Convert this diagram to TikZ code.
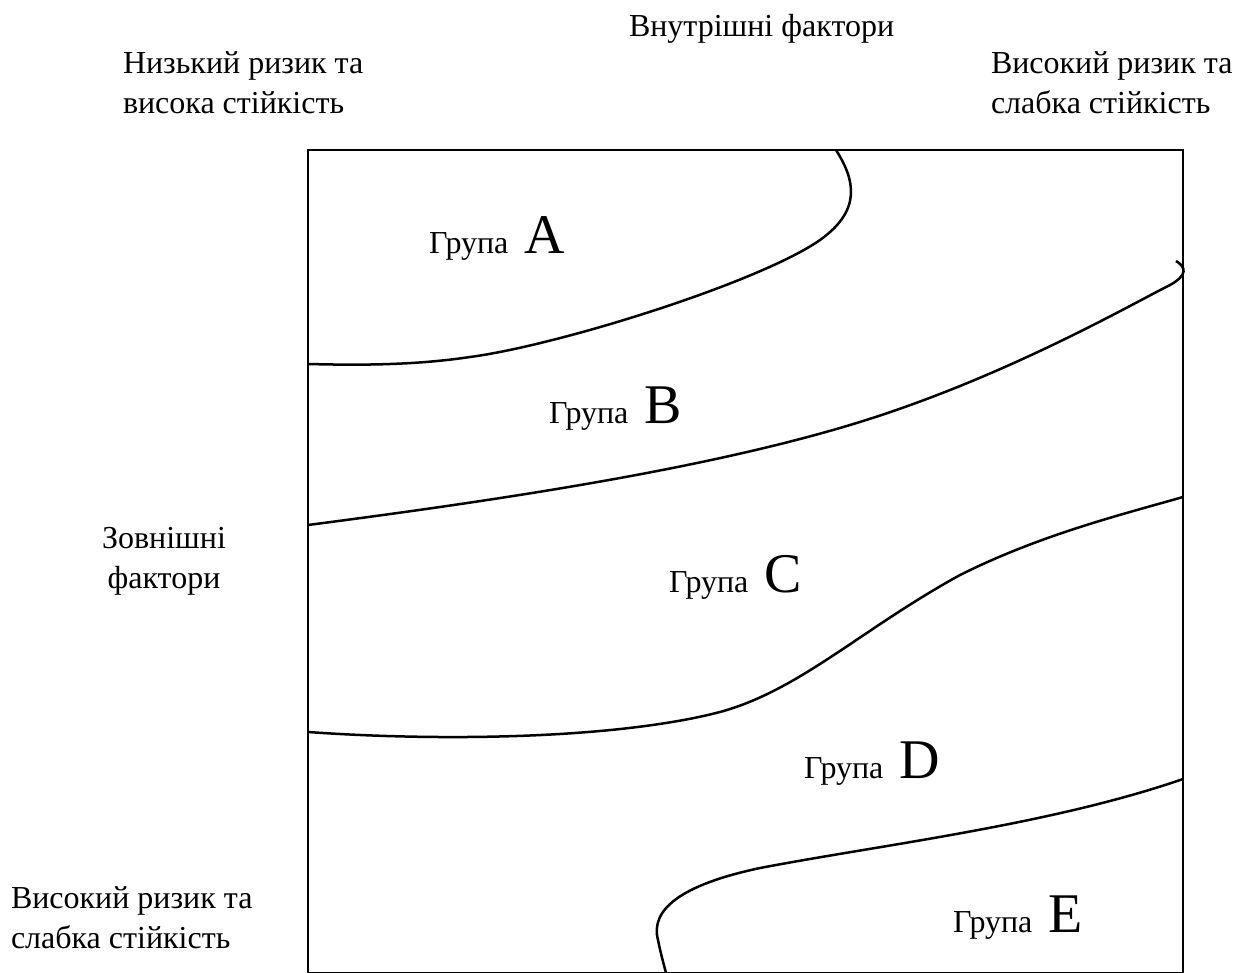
\documentclass[tikz,border=0pt]{standalone}
\usepackage{fontspec}
\setmainfont{Liberation Serif}
\usepackage{tikz}
\usetikzlibrary{arrows.meta}

\tikzset{lbl/.style={inner sep=0pt,anchor=base west,align=left,font=\fontsize{32}{40}\selectfont},
grp/.style={inner sep=0pt,anchor=base west,font=\fontsize{32}{40}\selectfont},
zone/.style={line width=2.5pt}}
\newcommand{\grupa}[1]{Група\hspace{16pt}{\fontsize{56}{60}\selectfont #1}}

\begin{document}
\begin{tikzpicture}[x=1pt,y=-1pt,line width=2pt]
\useasboundingbox(0,0)rectangle(1246,972);
\draw(308,150)rectangle(1183,973);
\draw[zone](836,150)..controls(855,180)and(862,210)..(820,240)..controls(760,282)and(560,345)..(470,357)..controls(410,366)and(350,365)..(308,364);
\draw[zone](308,525)..controls(500,500)and(700,470)..(850,425)..controls(1000,380)and(1130,305)..(1170,285)..controls(1188,275)and(1186,267)..(1176,261);
\draw[zone](308,732)..controls(450,742)and(620,738)..(720,712)..controls(800,690)and(860,630)..(960,575)..controls(1040,535)and(1120,515)..(1183,497);
\draw[zone](1183,779)..controls(1050,825)and(880,845)..(760,868)..controls(680,885)and(650,910)..(658,940)..controls(661,955)and(664,965)..(666,973);
\node[lbl](inner)at(628,36){Внутрішні фактори};
\node[lbl](lowrisk)at(122,113){Низький ризик та\\висока стійкість};
\node[lbl](highrisk)at(990,113){Високий ризик та\\слабка стійкість};
\node[lbl,align=center,anchor=base](outer)at(164,588){Зовнішні\\фактори};
\node[lbl](highrisk2)at(10,948){Високий ризик та\\слабка стійкість};
\node[grp](ga)at(428,253){\grupa{A}};
\node[grp](gb)at(548,423){\grupa{B}};
\node[grp](gc)at(668,592){\grupa{C}};
\node[grp](gd)at(803,778){\grupa{D}};
\node[grp](ge)at(952,932){\grupa{E}};
\end{tikzpicture}
\end{document}
